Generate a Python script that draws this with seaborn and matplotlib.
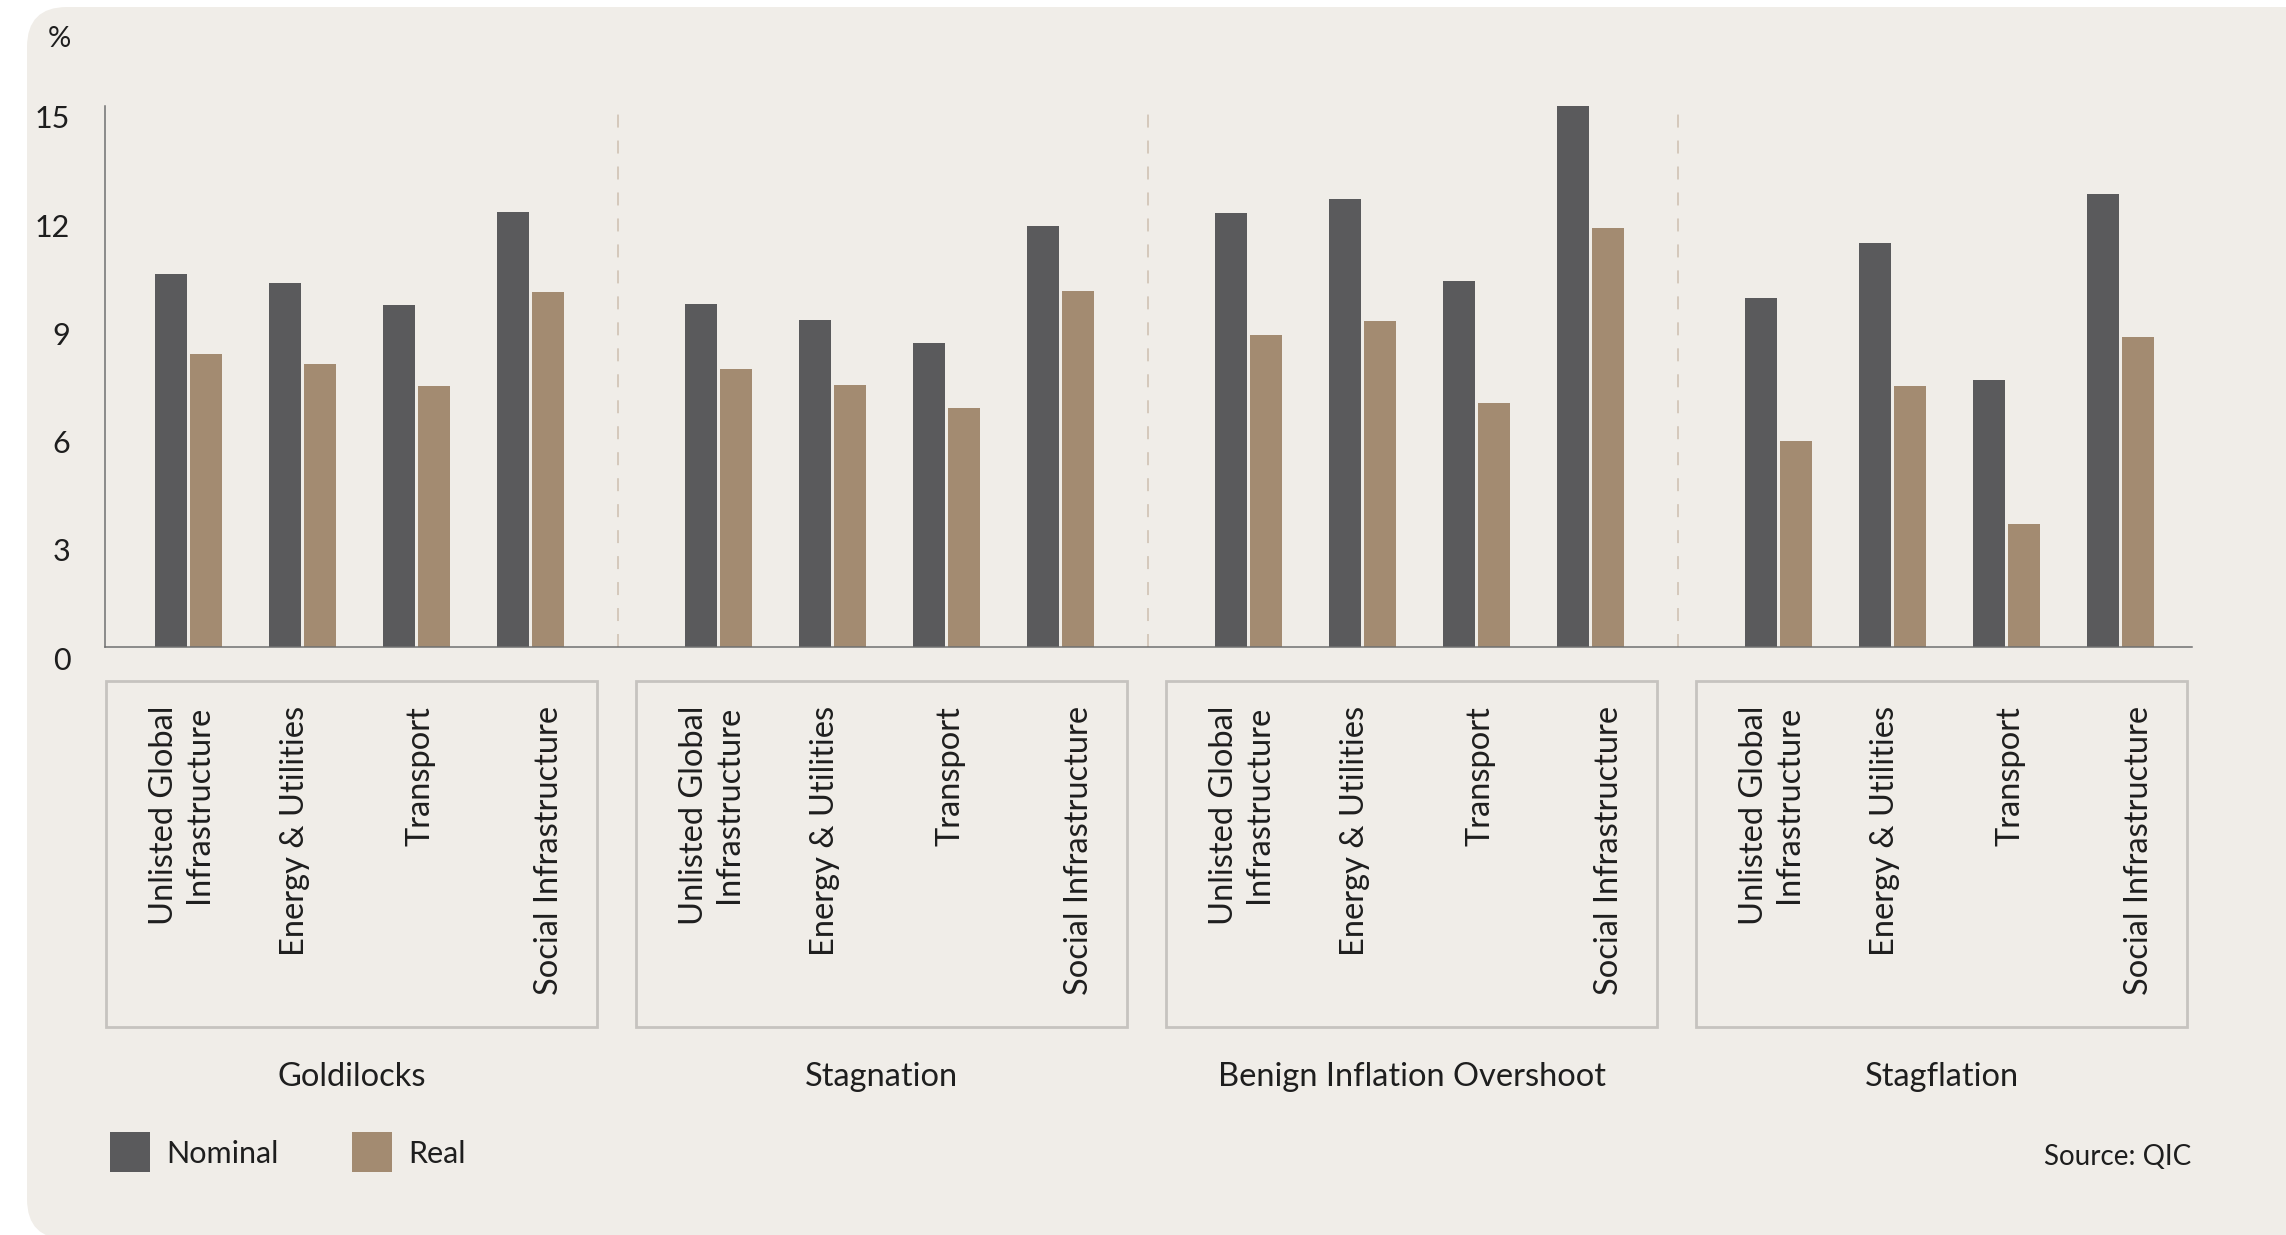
import numpy as np
import pandas as pd
import matplotlib
matplotlib.use("Agg")
import matplotlib.pyplot as plt
import matplotlib.transforms as mtransforms
from matplotlib.patches import FancyBboxPatch, Rectangle
import seaborn as sns

# ---- data -------------------------------------------------------------
scenarios = ["Goldilocks", "Stagnation", "Benign Inflation Overshoot", "Stagflation"]
sectors = ["Unlisted Global\nInfrastructure", "Energy & Utilities", "Transport",
           "Social Infrastructure"]
measures = ["Nominal", "Real"]

goldilocks_nominal = [10.35, 10.10, 9.49, 12.07]
goldilocks_real = [8.11, 7.86, 7.24, 9.83]
stagnation_nominal = [9.51, 9.07, 8.43, 11.67]
stagnation_real = [7.71, 7.26, 6.63, 9.88]
benign_nominal = [12.03, 12.42, 10.15, 15.00]
benign_real = [8.66, 9.04, 6.77, 11.62]
stagflation_nominal = [9.68, 11.21, 7.39, 12.56]
stagflation_real = [5.72, 7.24, 3.42, 8.60]

yticks = [0, 3, 6, 9, 12, 15]

# ---- styling ----------------------------------------------------------
BG = "#F0EDE8"
NOMINAL_C = "#5A5A5C"
REAL_C = "#A38B71"
TEXT_C = "#1E1E1E"
AXIS_C = "#707070"
DASH_C = "#CDBFAF"
BOX_C = "#C6C3BF"
FONT = ["Lato", "DejaVu Sans"]

GROUP_STEP = 4.65          # distance between scenario groups, in bar-pair units
LABEL_FRAC = [0.154, 0.384, 0.640, 0.902]   # sector label positions inside each box

nominal_sets = [goldilocks_nominal, stagnation_nominal, benign_nominal, stagflation_nominal]
real_sets = [goldilocks_real, stagnation_real, benign_real, stagflation_real]

rows = []
for g, scen in enumerate(scenarios):
    for k, sec in enumerate(sectors):
        pos = g * GROUP_STEP + k
        rows.append(dict(scenario=scen, sector=sec, measure="Nominal", x=pos,
                         value=nominal_sets[g][k]))
        rows.append(dict(scenario=scen, sector=sec, measure="Real", x=pos,
                         value=real_sets[g][k]))
df = pd.DataFrame(rows)

sns.set_theme(style="white")
plt.rcParams["font.family"] = FONT

W, H, DPI = 2286, 1235, 100
fig = plt.figure(figsize=(W / DPI, H / DPI), dpi=DPI)
fig.patch.set_facecolor("white")

# rounded background panel
panel = FancyBboxPatch((27, -4), 2400, 1232, boxstyle="round,pad=0,rounding_size=40",
                       transform=None, fc=BG, ec="none", zorder=-10)
fig.add_artist(panel)


def fy(px_from_top):
    return (H - px_from_top) / H


ax_left, ax_right, ax_top, ax_bot = 105, 2192, 106, 647
ax = fig.add_axes([ax_left / W, fy(ax_bot), (ax_right - ax_left) / W,
                   (ax_bot - ax_top) / H])
ax.set_facecolor("none")

sns.barplot(data=df, x="x", y="value", hue="measure", hue_order=measures,
            palette=[NOMINAL_C, REAL_C], native_scale=True, width=0.612, gap=0.083,
            errorbar=None, legend=False, saturation=1, linewidth=0, ax=ax)

x_min = -0.73
x_max = 3 * GROUP_STEP + 3 + 0.63
ax.set_xlim(x_min, x_max)
ax.set_ylim(0, 15)
ax.set_xticks([])
ax.set_xlabel("")
ax.set_ylabel("")
ax.set_yticks(yticks)
ax.set_yticklabels([str(t) for t in yticks])
ax.tick_params(axis="y", length=0, pad=25, labelsize=22, labelcolor=TEXT_C)
offset = mtransforms.ScaledTranslation(0, -0.11, fig.dpi_scale_trans)
for lab in ax.get_yticklabels():
    lab.set_transform(lab.get_transform() + offset)

for side in ["top", "right"]:
    ax.spines[side].set_visible(False)
for side in ["left", "bottom"]:
    ax.spines[side].set_color(AXIS_C)
    ax.spines[side].set_linewidth(1.1)

# dashed separators between scenarios
for g in range(1, len(scenarios)):
    ax.axvline(g * GROUP_STEP - 0.88, ymin=0, ymax=1, color=DASH_C, lw=1.1,
               dashes=(8.5, 8.5), zorder=0)

# category boxes, sector labels and scenario titles
blend = mtransforms.blended_transform_factory(ax.transData, fig.transFigure)
box_top, box_bot = fy(681), fy(1027)
for g, scen in enumerate(scenarios):
    bl = g * GROUP_STEP - 0.72
    br = g * GROUP_STEP + 3.59
    rect = Rectangle((bl, box_bot), br - bl, box_top - box_bot, transform=blend,
                     fill=False, ec=BOX_C, lw=2.0, clip_on=False)
    fig.add_artist(rect)
    for k, sec in enumerate(sectors):
        fig.text(bl + LABEL_FRAC[k] * (br - bl), fy(706), sec, transform=blend,
                 rotation=90, ha="center", va="top", multialignment="right",
                 fontsize=23.5, color=TEXT_C)
    fig.text((bl + br) / 2, fy(1086), scen, transform=blend, ha="center",
             va="baseline", fontsize=23.5, color=TEXT_C)

# unit label
fig.text(48 / W, fy(47), "%", ha="left", va="baseline", fontsize=21, color=TEXT_C)

# legend
for (x0, label, col) in [(110, "Nominal", NOMINAL_C), (352, "Real", REAL_C)]:
    fig.add_artist(Rectangle((x0, H - 1172), 40, 40, transform=None, fc=col, ec="none"))
    fig.text((x0 + 56) / W, fy(1163), label, ha="left", va="baseline", fontsize=22,
             color=TEXT_C)

fig.text(2191 / W, fy(1165), "Source: QIC", ha="right", va="baseline", fontsize=20,
         color=TEXT_C)

fig.savefig("out.png", dpi=DPI, facecolor="white")
